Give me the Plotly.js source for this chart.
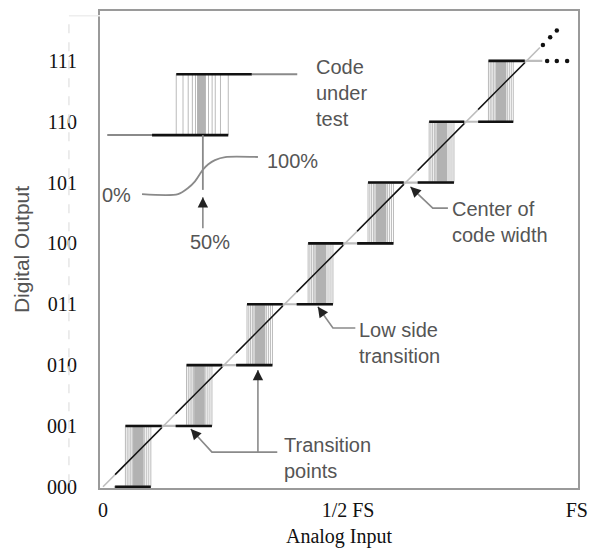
<!DOCTYPE html>
<html>
<head>
<meta charset="utf-8">
<script src="https://cdn.plot.ly/plotly-3.0.1.min.js"></script>
<style>html,body{margin:0;padding:0;background:#fff;}#chart{width:592px;height:548px;}</style>
</head>
<body>
<div id="chart"></div>
<script>
// ---- data (x in LSB of analog input, y in output code) ----
const codes = ['000', '001', '010', '011', '100', '101', '110', '111'];
const levels = [0, 1, 2, 3, 4, 5, 6, 7];
const xTickVals = [0, 4.05, 7.83];
const xTickText = ['0', '1/2 FS', 'FS'];

// horizontal extent of each output code's step line
const levelStart = [0.18, 0.37, 1.38, 2.38, 3.39, 4.38, 5.39, 6.37];
const levelEnd = [0.79, 1.80, 2.80, 3.80, 4.80, 5.80, 6.78, 6.98];
const levelTail = [null, null, null, null, null, null, null, 7.26];

// noisy transition regions between code k and k+1
const transStart = [0.37, 1.38, 2.38, 3.39, 4.38, 5.39, 6.37];
const transEnd = [0.79, 1.80, 2.80, 3.80, 4.80, 5.80, 6.78];

// ideal straight line through code centres
const codeCenters = [0, 1, 2, 3, 4, 5, 6, 7];
const diagEnd = 7.22;
const moreDiagX = [7.27, 7.39, 7.50];
const moreDiagY = [7.26, 7.39, 7.50];
const moreFlatX = [7.34, 7.50, 7.67];
const moreFlatY = [7, 7, 7];

// magnified "code under test" inset
const insetLowY = 5.78, insetHighY = 6.78;
const insetLowX = [0.07, 0.81, 2.07];     // gray start, black start, end
const insetHighX = [1.21, 2.46, 3.21];    // black start, black end, gray end
const insetTrans = [1.21, 2.07];
const insetProbeX = 1.65;
const insetProbeY = [5.78, 4.88];
const sCurveX = [0.645, 1.24, 1.405, 1.52, 1.65, 1.74, 1.85, 2.02, 2.56];
const sCurveY = [4.81, 4.81, 4.91, 5.02, 5.21, 5.30, 5.37, 5.42, 5.42];

// leader lines of the call-outs
const leadCenterX = [5.70, 5.45, 5.08], leadCenterY = [4.58, 4.58, 4.93];
const leadLowX = [4.17, 3.80, 3.55], leadLowY = [2.61, 2.61, 2.96];
const leadTransX = [2.88, 1.80, 1.45], leadTransY = [0.57, 0.57, 0.95];
const leadTransUpX = [2.56, 2.56], leadTransUpY = [0.57, 1.92];
const lead50X = [1.65, 1.65], lead50Y = [4.25, 4.76];

// ---- styling constants ----
const GAP = [-0.03, 0.20];                 // lighter part of lines around code centre
const hatchLines = [0, 0.07, 0.14, 0.21, 0.27, 0.76, 0.84, 0.92, 1.0];
const hatchBand = [0.30, 0.72];
const insetHatchLines = [0, 0.13, 0.23, 0.31, 0.37, 0.62, 0.69, 0.75, 0.85, 1.0];
const insetBand = [0.40, 0.57];
const BLACK = '#111', LIGHT = '#bdbdbd', HATCH = '#a8a8a8', BAND = '#b2b2b2', TEXT = '#555', LEAD = '#8a8a8a';
const SANS = 'Arial, "Liberation Sans", sans-serif';
const SERIF = '"Times New Roman", "Liberation Serif", serif';

const traces = [];
function seg(xs, ys, color, width, extra) {
  traces.push(Object.assign({type: 'scatter', mode: 'lines', x: xs, y: ys,
    line: {color: color, width: width}, hoverinfo: 'skip', showlegend: false}, extra || {}));
}
function pushSeg(arrX, arrY, x0, x1, y0, y1) { arrX.push(x0, x1, null); arrY.push(y0, y1, null); }

// hatch (transition noise) bands and vertical lines
function hatch(a, b, y0, y1, offs, band) {
  const bx = [], by = [], lx = [], ly = [];
  const w = b - a;
  bx.push(a + band[0] * w, a + band[1] * w, a + band[1] * w, a + band[0] * w, a + band[0] * w);
  by.push(y0, y0, y1, y1, y0);
  offs.forEach(o => pushSeg(lx, ly, a + o * w, a + o * w, y0, y1));
  traces.push({type: 'scatter', mode: 'lines', x: bx, y: by, fill: 'toself', fillcolor: BAND,
    line: {width: 0, color: BAND}, hoverinfo: 'skip', showlegend: false});
  seg(lx, ly, HATCH, 0.8);
}
transStart.forEach((a, k) => hatch(a, transEnd[k], levels[k], levels[k + 1], hatchLines, hatchBand));

// diagonal: light line, black parts between code centres
seg([0, diagEnd], [0, diagEnd], LIGHT, 1.6);
{
  const dx = [], dy = [];
  for (let k = 0; k < codeCenters.length - 1; k++) {
    const a = codeCenters[k] + GAP[1], b = codeCenters[k + 1] + GAP[0];
    pushSeg(dx, dy, a, b, a, b);
  }
  seg(dx, dy, BLACK, 1.5);
}
seg(moreDiagX, moreDiagY, BLACK, 0, {mode: 'markers', marker: {color: BLACK, size: 4.5}});
seg(moreFlatX, moreFlatY, BLACK, 0, {mode: 'markers', marker: {color: BLACK, size: 4.5}});

// step lines
{
  const gx = [], gy = [], bx = [], by = [];
  levels.forEach((lv, k) => {
    const s = levelStart[k], e = levelEnd[k], c = codeCenters[k];
    const gEnd = levelTail[k] !== null ? levelTail[k] : e;
    pushSeg(gx, gy, s, gEnd, lv, lv);
    if (c + GAP[0] > s) pushSeg(bx, by, s, Math.min(e, c + GAP[0]), lv, lv);
    if (c + GAP[1] < e) pushSeg(bx, by, Math.max(s, c + GAP[1]), e, lv, lv);
  });
  seg(gx, gy, LIGHT, 2.2);
  seg(bx, by, BLACK, 2.6);
}

// inset
hatch(insetTrans[0], insetTrans[1], insetLowY, insetHighY, insetHatchLines, insetBand);
seg([insetLowX[0], insetLowX[1]], [insetLowY, insetLowY], LEAD, 2);
seg([insetLowX[1], insetLowX[2]], [insetLowY, insetLowY], BLACK, 2.6);
seg([insetHighX[0], insetHighX[1]], [insetHighY, insetHighY], BLACK, 2.6);
seg([insetHighX[1], insetHighX[2]], [insetHighY, insetHighY], LEAD, 2);
seg([insetProbeX, insetProbeX], insetProbeY, LEAD, 1.8);
seg(sCurveX, sCurveY, LEAD, 1.8, {line: {color: LEAD, width: 1.8, shape: 'spline', smoothing: 0.8}});

// leader lines
seg(leadCenterX, leadCenterY, LEAD, 1.6);
seg(leadLowX, leadLowY, LEAD, 1.6);
seg(leadTransX, leadTransY, LEAD, 1.6);
seg(leadTransUpX, leadTransUpY, LEAD, 1.6);
seg(lead50X, lead50Y, LEAD, 1.6);

function label(text, x, y, xanchor, size) {
  return {x: x, y: y, xref: 'x', yref: 'y', text: text, showarrow: false, xanchor: xanchor,
    yanchor: 'middle', align: 'left',
    font: {family: SANS, size: size || 20, color: TEXT}};
}

const annotations = [
  label('Code<br>under<br>test', 3.48, 6.47, 'left'),
  label('0%', 0.50, 4.80, 'right'),
  label('100%', 2.68, 5.36, 'left'),
  label('50%', 1.77, 4.02, 'center'),
  label('Center of<br>code width', 5.74, 4.35, 'left'),
  label('Low side<br>transition', 4.19, 2.37, 'left'),
  label('Transition<br>points', 2.96, 0.48, 'left')
];

// small dark arrow tips at the end of the gray leader lines
[[leadCenterX, leadCenterY], [leadLowX, leadLowY], [leadTransX, leadTransY],
 [leadTransUpX, leadTransUpY], [lead50X, lead50Y]].forEach(([xs, ys]) => {
  const n = xs.length;
  const dxp = (xs[n - 1] - xs[n - 2]) * 60.5, dyp = (ys[n - 1] - ys[n - 2]) * 60.9;
  const L = Math.hypot(dxp, dyp);
  annotations.push({x: xs[n - 1], y: ys[n - 1], xref: 'x', yref: 'y', text: '', showarrow: true,
    ax: -dxp / L * 9, ay: dyp / L * 9, arrowhead: 2, arrowsize: 1.3, arrowwidth: 1.6,
    arrowcolor: '#222', standoff: 0});
});

const layout = {
  width: 592, height: 548,
  font: {family: SANS, color: TEXT},
  margin: {l: 100, r: 14, t: 11, b: 60, pad: 0},
  paper_bgcolor: '#fff', plot_bgcolor: '#fff',
  showlegend: false,
  xaxis: {
    range: [-0.05, 7.85], tickvals: xTickVals, ticktext: xTickText,
    showgrid: false, zeroline: false, ticks: '', ticklabelstandoff: 3,
    showline: true, mirror: true, linecolor: '#9a9a9a', linewidth: 2,
    tickfont: {family: SERIF, size: 20, color: '#111'},
    title: {text: 'Analog Input', font: {family: SERIF, size: 20, color: '#111'}, standoff: 10},
    fixedrange: true
  },
  yaxis: {
    range: [-0.02, 7.82], tickvals: levels, ticktext: codes,
    showgrid: false, zeroline: false, ticks: '', ticklabelstandoff: 17,
    showline: true, mirror: true, linecolor: '#9a9a9a', linewidth: 2,
    tickfont: {family: SERIF, size: 20, color: '#111'},
    title: {text: 'Digital Output', font: {family: SANS, size: 21, color: TEXT}, standoff: 12},
    fixedrange: true
  },
  annotations: annotations,
  shapes: [
    {type: 'line', xref: 'paper', yref: 'paper', x0: -0.065, x1: -0.065, y0: 0.01, y1: 0.99,
     line: {color: '#e6e6e6', width: 1.5, dash: 'dash'}},
    {type: 'line', xref: 'paper', yref: 'paper', x0: -0.065, x1: 0, y0: 0.99, y1: 0.99,
     line: {color: '#eeeeee', width: 1.5}}
  ]
};

Plotly.newPlot('chart', traces, layout, {staticPlot: true, displayModeBar: false});
</script>
</body>
</html>
